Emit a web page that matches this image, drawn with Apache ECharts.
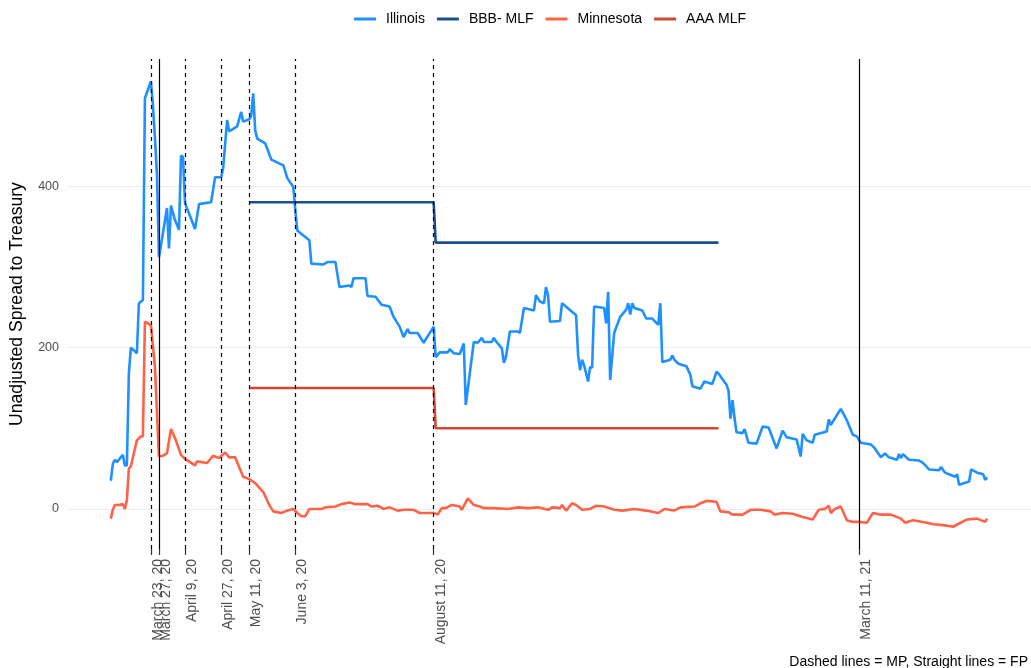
<!DOCTYPE html>
<html><head><meta charset="utf-8">
<script src="https://cdn.jsdelivr.net/npm/echarts@6/dist/echarts.min.js"></script>
<style>html,body{margin:0;padding:0;background:#fff}#c{width:1031px;height:668px}</style>
</head><body><div id="c"></div>
<script>
const illinoisDates = ['2020-03-03','2020-03-04','2020-03-05','2020-03-06','2020-03-09','2020-03-10','2020-03-11','2020-03-12','2020-03-13','2020-03-16','2020-03-17','2020-03-19','2020-03-20','2020-03-23','2020-03-24','2020-03-25','2020-03-26','2020-03-27','2020-03-29','2020-03-31','2020-04-01','2020-04-02','2020-04-04','2020-04-06','2020-04-07','2020-04-08','2020-04-09','2020-04-14','2020-04-16','2020-04-19','2020-04-22','2020-04-24','2020-04-27','2020-04-28','2020-04-30','2020-05-01','2020-05-05','2020-05-07','2020-05-08','2020-05-11','2020-05-12','2020-05-13','2020-05-14','2020-05-15','2020-05-19','2020-05-22','2020-05-27','2020-05-28','2020-05-30','2020-06-02','2020-06-03','2020-06-04','2020-06-07','2020-06-10','2020-06-11','2020-06-17','2020-06-19','2020-06-23','2020-06-25','2020-06-30','2020-07-01','2020-07-02','2020-07-08','2020-07-09','2020-07-13','2020-07-16','2020-07-20','2020-07-22','2020-07-25','2020-07-27','2020-07-29','2020-07-30','2020-08-03','2020-08-06','2020-08-11','2020-08-12','2020-08-14','2020-08-18','2020-08-19','2020-08-21','2020-08-24','2020-08-26','2020-08-27','2020-08-31','2020-09-02','2020-09-04','2020-09-05','2020-09-09','2020-09-10','2020-09-11','2020-09-14','2020-09-15','2020-09-16','2020-09-18','2020-09-22','2020-09-23','2020-09-25','2020-09-30','2020-10-01','2020-10-03','2020-10-05','2020-10-06','2020-10-07','2020-10-08','2020-10-13','2020-10-14','2020-10-21','2020-10-22','2020-10-23','2020-10-24','2020-10-25','2020-10-27','2020-10-28','2020-10-29','2020-10-30','2020-11-04','2020-11-05','2020-11-06','2020-11-07','2020-11-09','2020-11-12','2020-11-15','2020-11-16','2020-11-17','2020-11-18','2020-11-19','2020-11-23','2020-11-25','2020-11-28','2020-12-01','2020-12-02','2020-12-03','2020-12-07','2020-12-08','2020-12-09','2020-12-11','2020-12-15','2020-12-17','2020-12-18','2020-12-22','2020-12-24','2020-12-28','2020-12-30','2020-12-31','2021-01-04','2021-01-05','2021-01-06','2021-01-07','2021-01-08','2021-01-09','2021-01-12','2021-01-13','2021-01-15','2021-01-19','2021-01-22','2021-01-25','2021-01-27','2021-01-29','2021-02-01','2021-02-03','2021-02-08','2021-02-10','2021-02-11','2021-02-13','2021-02-16','2021-02-17','2021-02-23','2021-02-24','2021-02-25','2021-03-02','2021-03-05','2021-03-08','2021-03-10','2021-03-12','2021-03-17','2021-03-19','2021-03-22','2021-03-24','2021-03-26','2021-03-30','2021-03-31','2021-04-01','2021-04-02','2021-04-05','2021-04-10','2021-04-12','2021-04-15','2021-04-20','2021-04-21','2021-04-23','2021-04-28','2021-04-29','2021-04-30','2021-05-05','2021-05-06','2021-05-09','2021-05-12','2021-05-13','2021-05-14'];
const illinoisValues = [35,56,61,58,67,54,54,168,200,193,255,259,509,530,500,460,415,312,342,373,323,376,358,346,438,436,379,347,378,379,380,411,411,422,482,468,474,492,480,483,487,515,469,459,453,433,427,426,410,399,370,345,339,333,304,303,306,306,275,277,275,286,286,264,263,253,251,238,226,213,223,218,218,206,226,188,194,194,198,193,192,205,129,207,206,212,207,207,212,208,199,181,188,220,220,218,249,246,265,257,255,275,265,232,233,255,240,191,172,185,178,158,176,175,251,249,230,269,160,218,238,247,255,241,255,249,246,236,236,228,255,182,185,190,185,180,177,166,152,149,158,155,170,168,154,147,112,135,113,95,94,99,82,81,102,101,88,75,97,89,86,65,93,85,82,92,96,111,104,124,110,92,90,82,80,75,64,69,64,61,68,63,68,61,60,57,49,48,52,45,40,43,30,34,49,45,43,36,39];

const minnesotaDates = ['2020-03-03','2020-03-04','2020-03-05','2020-03-07','2020-03-09','2020-03-10','2020-03-11','2020-03-12','2020-03-13','2020-03-16','2020-03-18','2020-03-19','2020-03-20','2020-03-23','2020-03-25','2020-03-27','2020-03-29','2020-03-31','2020-04-02','2020-04-04','2020-04-07','2020-04-09','2020-04-14','2020-04-15','2020-04-20','2020-04-23','2020-04-26','2020-04-29','2020-05-01','2020-05-04','2020-05-08','2020-05-11','2020-05-14','2020-05-18','2020-05-21','2020-05-23','2020-05-27','2020-05-30','2020-06-02','2020-06-04','2020-06-06','2020-06-08','2020-06-10','2020-06-16','2020-06-18','2020-06-23','2020-06-26','2020-06-30','2020-07-03','2020-07-09','2020-07-11','2020-07-14','2020-07-17','2020-07-20','2020-07-24','2020-07-27','2020-08-01','2020-08-04','2020-08-08','2020-08-11','2020-08-13','2020-08-15','2020-08-17','2020-08-20','2020-08-24','2020-08-25','2020-08-28','2020-08-31','2020-09-03','2020-09-05','2020-09-10','2020-09-17','2020-09-22','2020-09-27','2020-10-02','2020-10-07','2020-10-09','2020-10-13','2020-10-14','2020-10-16','2020-10-19','2020-10-21','2020-10-24','2020-10-28','2020-10-31','2020-11-04','2020-11-09','2020-11-13','2020-11-19','2020-11-25','2020-12-01','2020-12-04','2020-12-09','2020-12-12','2020-12-19','2020-12-22','2020-12-24','2020-12-25','2020-12-30','2021-01-01','2021-01-05','2021-01-07','2021-01-12','2021-01-16','2021-01-21','2021-01-26','2021-01-28','2021-02-01','2021-02-06','2021-02-11','2021-02-16','2021-02-19','2021-02-22','2021-02-24','2021-02-25','2021-02-27','2021-03-02','2021-03-05','2021-03-08','2021-03-11','2021-03-15','2021-03-18','2021-03-22','2021-03-27','2021-04-01','2021-04-03','2021-04-07','2021-04-14','2021-04-17','2021-04-22','2021-04-27','2021-05-04','2021-05-09','2021-05-13','2021-05-14'];
const minnesotaValues = [-12,-1,5,5,6,0,11,50,53,85,90,90,232,228,176,65,66,69,99,88,67,62,54,59,57,66,63,70,64,64,40,37,32,21,5,-3,-5,-2,0,-5,-9,-9,0,0,2,3,6,8,6,6,3,4,0,2,-2,-1,-1,-5,-5,-5,-7,1,1,5,3,-1,13,5,3,1,1,0,2,1,2,-1,2,1,5,-2,7,5,-1,0,4,3,-1,-2,0,-2,-5,0,-2,2,3,7,9,10,9,-3,-4,-7,-7,-1,-1,-3,-7,-5,-6,-10,-13,-1,0,4,-5,0,3,-14,-16,-16,-17,-5,-7,-7,-12,-17,-14,-17,-19,-20,-22,-13,-12,-16,-12];

const mlfDates = ['2020-05-11','2020-08-11','2020-08-12','2020-12-31'];
const bbbMlfValues = [380,380,330,330];
const aaaMlfValues = [150,150,100,100];

const mpDates = ['2020-03-23','2020-04-09','2020-04-27','2020-05-11','2020-06-03','2020-08-11'];
const fpDates = ['2020-03-27','2021-03-11'];
const yTickValues = [0,200,400];
const monthNames = ['January','February','March','April','May','June','July','August','September','October','November','December'];

function ts(s){const p=s.split('-').map(Number);return Date.UTC(p[0],p[1]-1,p[2]);}
function pairs(d,v){return d.map((x,i)=>[ts(x),v[i]]);}

const allTs = illinoisDates.concat(minnesotaDates, mlfDates).map(ts);
const tMin = Math.min(...allTs), tMax = Math.max(...allTs), tR = tMax - tMin;
const allV = illinoisValues.concat(minnesotaValues, bbbMlfValues, aaaMlfValues);
const vMin = Math.min(...allV), vMax = Math.max(...allV), vR = vMax - vMin;
const mpTs = mpDates.map(ts), fpTs = fpDates.map(ts);

const FONT = 'Liberation Sans, Arial, sans-serif';
function fmtDate(v){const d=new Date(v);return monthNames[d.getUTCMonth()]+' '+d.getUTCDate()+', '+String(d.getUTCFullYear()%100).padStart(2,'0');}
function xAxisFor(vals){
  return {type:'value',gridIndex:0,position:'bottom',min:tMin-0.05*tR,max:tMax+0.05*tR,
    axisLine:{show:false,onZero:false},splitLine:{show:false},
    axisTick:{show:true,length:6,interval:0,lineStyle:{color:'#333',width:1.2},customValues:vals},
    axisLabel:{customValues:vals,interval:0,rotate:90,color:'#4d4d4d',fontSize:14,fontFamily:FONT,margin:10,
      verticalAlign:'top',align:'right',hideOverlap:false,showMinLabel:true,showMaxLabel:true,padding:[0,0,0,0],
      formatter:fmtDate}};
}
const chart = echarts.init(document.getElementById('c'), null, {renderer:'canvas'});
chart.setOption({
  animation:false,
  backgroundColor:'#fff',
  textStyle:{fontFamily:FONT},
  title:{text:'Dashed lines = MP, Straight lines = FP', right:3, bottom:-1, padding:0,
    textStyle:{fontFamily:FONT,fontSize:14,fontWeight:'normal',color:'#000'}},
  legend:{top:7,left:349,itemWidth:22,itemHeight:3,itemGap:12,icon:'rect',
    textStyle:{fontFamily:FONT,fontSize:14,color:'#000',padding:[0,0,0,5]},
    data:['Illinois','BBB- MLF','Minnesota','AAA MLF']},
  grid:{left:66,right:0,top:59,bottom:119,containLabel:false},
  xAxis:[xAxisFor(mpTs), xAxisFor(fpTs)],
  yAxis:{type:'value',min:vMin-0.05*vR,max:vMax+0.05*vR,
    name:'Unadjusted Spread to Treasury',nameLocation:'middle',nameGap:41,
    nameTextStyle:{fontFamily:FONT,fontSize:17.6,color:'#000'},
    axisLine:{show:false},
    axisTick:{show:false,customValues:yTickValues},
    axisLabel:{customValues:yTickValues,color:'#4d4d4d',fontSize:12.5,fontFamily:FONT,margin:8},
    splitLine:{show:true,lineStyle:{color:'#ebebeb',width:1}}
  },
  series:[
    {name:'Illinois',type:'line',xAxisIndex:0,data:pairs(illinoisDates,illinoisValues),showSymbol:false,symbol:'none',
      lineStyle:{color:'#1E90FF',width:2.6},itemStyle:{color:'#1E90FF'}},
    {name:'BBB- MLF',type:'line',xAxisIndex:0,data:pairs(mlfDates,bbbMlfValues),showSymbol:false,symbol:'none',
      lineStyle:{color:'#1B4F8A',width:2.6},itemStyle:{color:'#1B4F8A'}},
    {name:'Minnesota',type:'line',xAxisIndex:0,data:pairs(minnesotaDates,minnesotaValues),showSymbol:false,symbol:'none',
      lineStyle:{color:'#FF6347',width:2.6},itemStyle:{color:'#FF6347'}},
    {name:'AAA MLF',type:'line',xAxisIndex:0,data:pairs(mlfDates,aaaMlfValues),showSymbol:false,symbol:'none',
      lineStyle:{color:'#CD4A36',width:2.6},itemStyle:{color:'#CD4A36'},
      markLine:{silent:true,symbol:'none',label:{show:false},animation:false,
        data:mpTs.map(t=>({xAxis:t,lineStyle:{type:[4,4],color:'#000',width:1.2}}))
          .concat(fpTs.map(t=>({xAxis:t,lineStyle:{type:'solid',color:'#000',width:1.2}})))}}
  ]
});
</script></body></html>
